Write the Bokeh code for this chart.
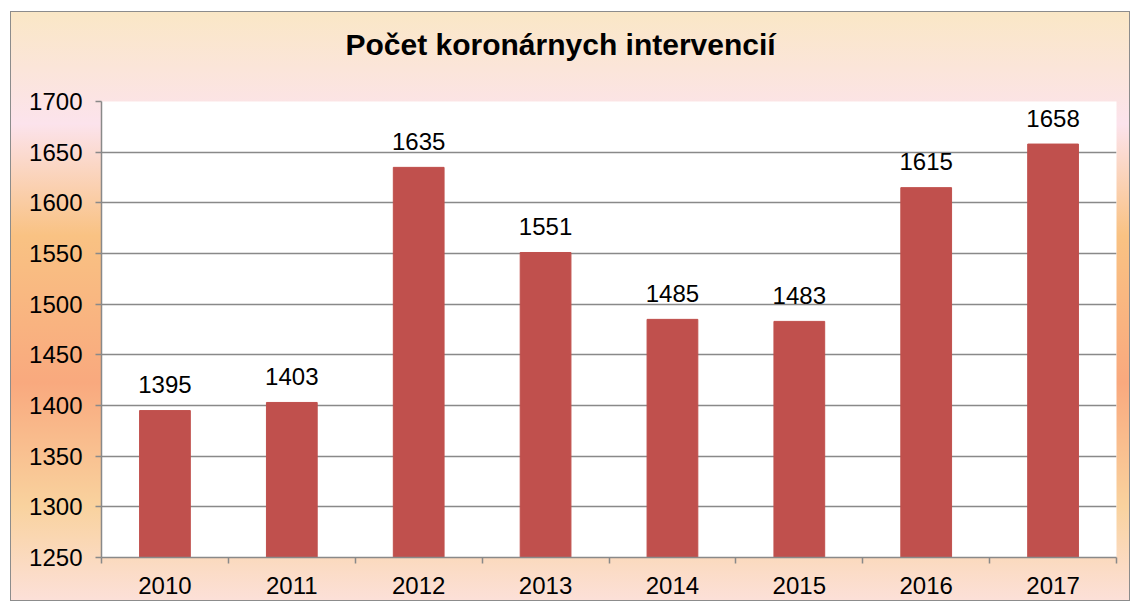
from bokeh.plotting import figure
from bokeh.models import ColumnDataSource, FixedTicker, Range1d
from bokeh.embed import file_html
from bokeh.resources import INLINE
from bokeh.core.properties import value

years = ["2010", "2011", "2012", "2013", "2014", "2015", "2016", "2017"]
counts = [1395, 1403, 1635, 1551, 1485, 1483, 1615, 1658]
y_ticks = [1250, 1300, 1350, 1400, 1450, 1500, 1550, 1600, 1650, 1700]
title_text = "Počet koronárnych intervencií"

FONT = "Liberation Sans"
GRID = "#898989"
FS = "24px"

xpos = [i + 0.5 for i in range(len(years))]
src = ColumnDataSource(dict(x=xpos, top=counts, label=[str(c) for c in counts]))

p = figure(width=1120, height=590, output_backend="svg", toolbar_location=None,
           x_range=Range1d(0, len(years)), y_range=Range1d(1250, 1700),
           min_border_left=90, min_border_right=15, min_border_top=89, min_border_bottom=45,
           title=title_text + "\n ")

p.styles = {
    "margin-left": "10px",
    "margin-top": "11px",
    "border": "1px solid #8c8c8c",
    "background": "linear-gradient(to bottom, #FAE7C6 0%, #FCE3EC 19%, #F9C283 38%, #F9A97E 63%, #F9D29E 84%, #FCE0D8 100%)",
}
p.border_fill_color = None
p.background_fill_color = "white"
p.outline_line_color = None

p.title.align = "left"
p.title.offset = 244
p.title.standoff = 16
p.title.text_font = FONT
p.title.text_font_size = "30px"
p.title.text_font_style = "bold"
p.title.text_color = "black"

p.vbar(x="x", top="top", bottom=1250, width=0.4, source=src,
       fill_color="#C0504D", line_color="#C0504D")

p.text(x="x", y="top", text="label", source=src, text_align="center",
       text_baseline="alphabetic", y_offset=-26, text_font=value(FONT),
       text_font_size=FS, text_color="black")

# y axis
p.yaxis.ticker = FixedTicker(ticks=y_ticks)
p.yaxis.axis_line_color = GRID
p.yaxis.axis_line_width = 1.5
p.yaxis.major_tick_line_color = GRID
p.yaxis.major_tick_line_width = 1.5
p.yaxis.major_tick_in = 0
p.yaxis.major_tick_out = 6
p.yaxis.minor_tick_line_color = None
p.yaxis.major_label_standoff = 13
p.yaxis.major_label_text_font = FONT
p.yaxis.major_label_text_font_size = FS
p.yaxis.major_label_text_color = "black"

# x axis: labels at centres, tick marks at category boundaries
p.xaxis.ticker = FixedTicker(ticks=xpos, minor_ticks=list(range(len(years) + 1)))
p.xaxis.major_label_overrides = {x: y for x, y in zip(xpos, years)}
p.xaxis.axis_line_color = GRID
p.xaxis.axis_line_width = 1.5
p.xaxis.major_tick_line_color = None
p.xaxis.major_tick_in = 0
p.xaxis.major_tick_out = 0
p.xaxis.minor_tick_line_color = GRID
p.xaxis.minor_tick_line_width = 1.5
p.xaxis.minor_tick_in = 0
p.xaxis.minor_tick_out = 6
p.xaxis.major_label_standoff = 13
p.xaxis.major_label_text_font = FONT
p.xaxis.major_label_text_font_size = FS
p.xaxis.major_label_text_color = "black"

p.xgrid.grid_line_color = None
p.ygrid.ticker = FixedTicker(ticks=y_ticks)
p.ygrid.grid_line_color = GRID
p.ygrid.grid_line_width = 1.5

open("out.html", "w").write(file_html(p, INLINE))
